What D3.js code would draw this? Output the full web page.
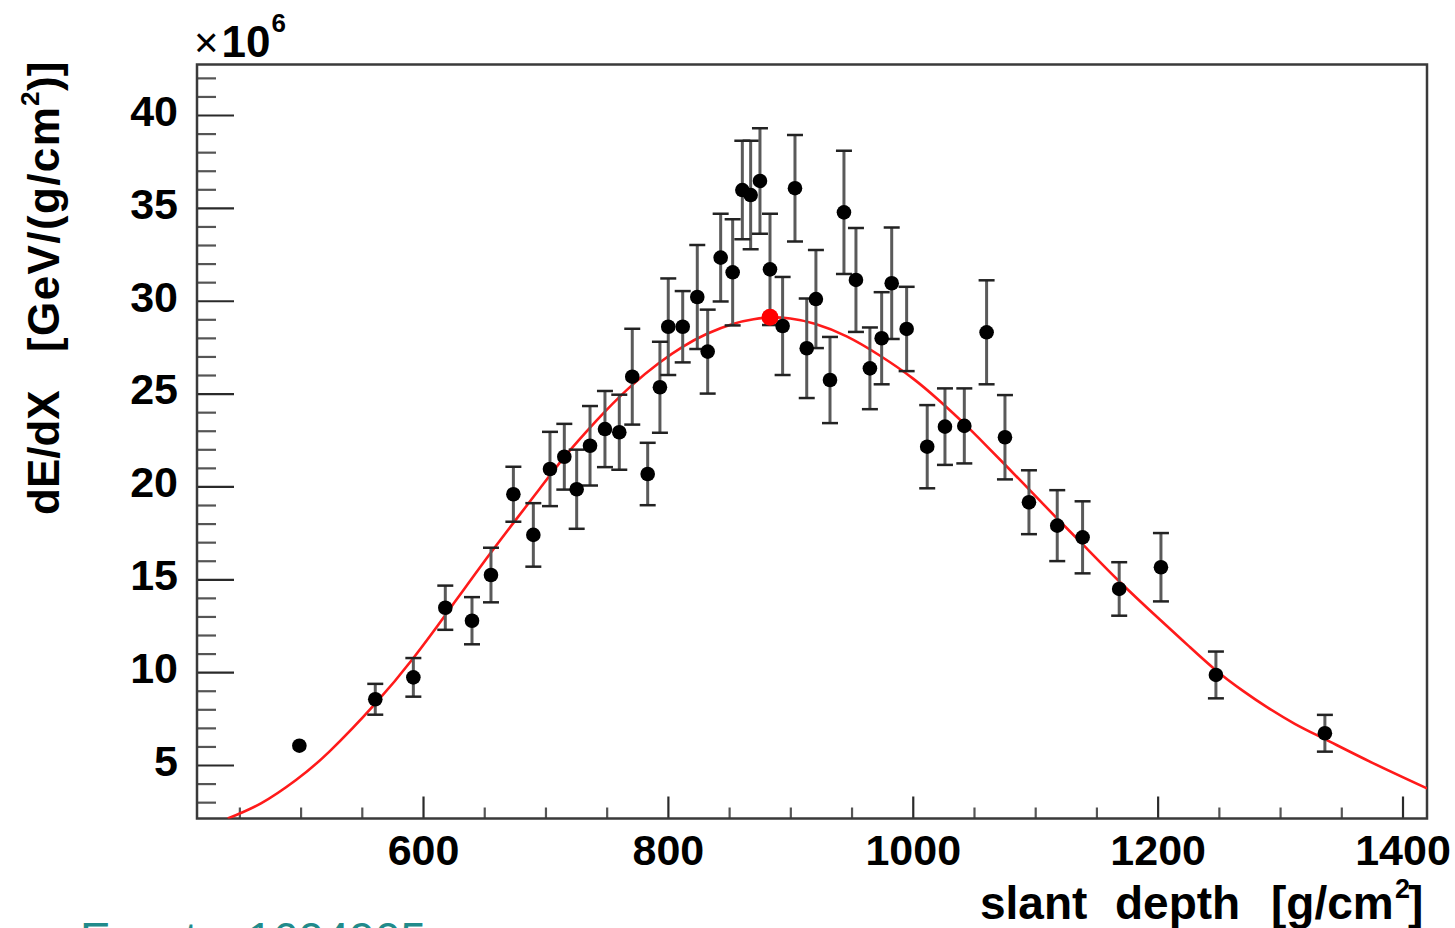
<!DOCTYPE html>
<html>
<head>
<meta charset="utf-8">
<script src="https://cdn.jsdelivr.net/npm/d3@7"></script>
<style>
  html, body { margin: 0; padding: 0; background: #ffffff; }
  svg { display: block; }
  text { font-family: "Liberation Sans", Arial, Helvetica, sans-serif; }
</style>
</head>
<body>
<svg id="chart" width="1455" height="928"></svg>
<script>
// ---- data (values in units of 1e6 GeV/(g/cm2)) ----
const depth = [499.0, 561.0, 592.1, 618.2, 640.0, 655.5, 673.8, 690.1, 703.7, 715.4,
               725.5, 736.4, 748.6, 760.3, 770.9, 783.5, 793.5, 800.3, 812.1, 824.0,
               832.5, 843.1, 852.9, 860.8, 867.6, 875.2, 883.4, 893.7, 903.8, 913.4,
               920.9, 932.4, 943.8, 953.6, 965.0, 974.6, 982.8, 995.0, 1011.8, 1026.3,
               1042.1, 1060.3, 1075.3, 1094.9, 1118.0, 1138.7, 1168.6, 1202.7, 1247.6, 1336.6];
const dEdX = [6.04, 8.54, 9.72, 13.47, 12.77, 15.23, 19.58, 17.39, 20.94, 21.60,
              19.85, 22.19, 23.09, 22.92, 25.91, 20.67, 25.34, 28.60, 28.60, 30.20,
              27.26, 32.32, 31.53, 35.96, 35.69, 36.45, 31.69, 28.64, 36.06, 27.44,
              30.09, 25.73, 34.76, 31.12, 26.36, 27.98, 30.94, 28.48, 22.14, 23.22,
              23.26, 28.30, 22.65, 19.15, 17.89, 17.26, 14.48, 15.65, 9.85, 6.71];
const dEdXErr = [0, 0.83, 1.04, 1.19, 1.27, 1.47, 1.48, 1.71, 2.00, 1.77,
                 2.13, 2.14, 2.05, 2.02, 2.58, 1.68, 2.45, 2.60, 1.92, 2.80,
                 2.26, 2.36, 2.86, 2.65, 2.92, 2.84, 3.00, 2.64, 2.87, 2.68,
                 2.64, 2.32, 3.32, 2.80, 2.20, 2.48, 3.00, 2.27, 2.24, 2.06,
                 2.02, 2.80, 2.27, 1.72, 1.91, 1.94, 1.44, 1.84, 1.26, 0.99];

// fitted profile curve
const fitDepth = [440.5, 468, 496, 523.5, 561, 592, 618, 646, 674, 695, 715, 732, 749, 771,
                  793, 812, 832, 853, 870, 884, 900, 920, 946, 973, 1000, 1022, 1042, 1060,
                  1077, 1095, 1118, 1139, 1169, 1202, 1225, 1248, 1270, 1289, 1312, 1337, 1375, 1420];
const fitValue = [2.12, 2.95, 4.18, 5.72, 8.3, 10.75, 13.05, 15.6, 18.05, 19.85, 21.55, 22.85, 24.06, 25.47,
                  26.66, 27.52, 28.22, 28.75, 29.0, 29.1, 29.04, 28.76, 28.08, 27.05, 25.82, 24.6, 23.38, 22.2,
                  21.06, 19.84, 18.27, 16.87, 14.87, 12.82, 11.43, 10.08, 8.98, 8.13, 7.22, 6.38, 5.13, 3.74];

// shower maximum marker
const xmaxDepth = [883.4];
const xmaxValue = [29.11];

// axes
const xDomain = [415.4, 1420];
const yDomain = [2.12, 42.72];
const xTicks = [600, 800, 1000, 1200, 1400];
const xMinorTicks = [450, 500, 550, 650, 700, 750, 850, 900, 950, 1050, 1100, 1150, 1250, 1300, 1350];
const yTicks = [5, 10, 15, 20, 25, 30, 35, 40];
const yMinorTicks = [3, 4, 6, 7, 8, 9, 11, 12, 13, 14, 16, 17, 18, 19, 21, 22, 23, 24,
                     26, 27, 28, 29, 31, 32, 33, 34, 36, 37, 38, 39, 41, 42];

// ---- drawing ----
const svg = d3.select("#chart");
const L = 197, R = 1427, T = 64.5, B = 818.5;

const x = d3.scaleLinear().domain(xDomain).range([L, R]);
const y = d3.scaleLinear().domain(yDomain).range([B, T]);

svg.append("rect").attr("width", 1455).attr("height", 928).attr("fill", "#ffffff");

svg.append("defs").append("clipPath").attr("id", "frameClip")
  .append("rect").attr("x", L).attr("y", T).attr("width", R - L).attr("height", B - T);

const tickFont = 43;

// Y axis (major with labels, minor without)
const yMajor = svg.append("g").attr("transform", `translate(${L},0)`)
  .call(d3.axisLeft(y).tickValues(yTicks).tickSize(-37).tickPadding(19).tickFormat(d3.format("d")));
const yMin = svg.append("g").attr("transform", `translate(${L},0)`)
  .call(d3.axisLeft(y).tickValues(yMinorTicks).tickSize(-19).tickFormat(""));

// X axis
const xMajor = svg.append("g").attr("transform", `translate(0,${B})`)
  .call(d3.axisBottom(x).tickValues(xTicks).tickSize(-22).tickPadding(16).tickFormat(d3.format("d")));
const xMin = svg.append("g").attr("transform", `translate(0,${B})`)
  .call(d3.axisBottom(x).tickValues(xMinorTicks).tickSize(-11).tickFormat(""));

[yMajor, yMin, xMajor, xMin].forEach(g => g.select(".domain").remove());
[yMajor, xMajor].forEach(g => {
  g.selectAll(".tick line").attr("stroke", "#2a2a2a").attr("stroke-width", 2.2);
  g.selectAll(".tick text").attr("fill", "#000").attr("font-size", tickFont)
    .attr("font-weight", "bold").attr("font-family", "'Liberation Sans', Arial, sans-serif");
});
yMajor.selectAll(".tick text").attr("dy", "0.24em");
[yMin, xMin].forEach(g => g.selectAll(".tick line").attr("stroke", "#555").attr("stroke-width", 2.2));

// frame
svg.append("rect").attr("x", L).attr("y", T).attr("width", R - L).attr("height", B - T)
  .attr("fill", "none").attr("stroke", "#3a3a3a").attr("stroke-width", 2.5);

// fitted curve
const fitData = fitDepth.map((d, i) => ({ d, v: fitValue[i] }));
svg.append("path").datum(fitData)
  .attr("clip-path", "url(#frameClip)")
  .attr("fill", "none").attr("stroke", "#ff1a1a").attr("stroke-width", 2.6)
  .attr("d", d3.line().x(p => x(p.d)).y(p => y(p.v)).curve(d3.curveNatural));

// error bars
const pts = depth.map((d, i) => ({ d, v: dEdX[i], e: dEdXErr[i] }));
const eb = svg.append("g").attr("clip-path", "url(#frameClip)");
const withErr = pts.filter(p => p.e > 0);
eb.selectAll("line.stem").data(withErr).join("line").attr("class", "stem")
  .attr("x1", p => x(p.d)).attr("x2", p => x(p.d))
  .attr("y1", p => y(p.v + p.e)).attr("y2", p => y(p.v - p.e))
  .attr("stroke", "#5a5a5a").attr("stroke-width", 3);
const capW = 8;
eb.selectAll("line.capT").data(withErr).join("line").attr("class", "capT")
  .attr("x1", p => x(p.d) - capW).attr("x2", p => x(p.d) + capW)
  .attr("y1", p => y(p.v + p.e)).attr("y2", p => y(p.v + p.e))
  .attr("stroke", "#222").attr("stroke-width", 2.5);
eb.selectAll("line.capB").data(withErr).join("line").attr("class", "capB")
  .attr("x1", p => x(p.d) - capW).attr("x2", p => x(p.d) + capW)
  .attr("y1", p => y(p.v - p.e)).attr("y2", p => y(p.v - p.e))
  .attr("stroke", "#222").attr("stroke-width", 2.5);

// data points
svg.append("g").selectAll("circle").data(pts).join("circle")
  .attr("cx", p => x(p.d)).attr("cy", p => y(p.v)).attr("r", 7.3).attr("fill", "#000");

// Xmax marker
svg.append("g").selectAll("circle").data(xmaxDepth.map((d, i) => ({ d, v: xmaxValue[i] }))).join("circle")
  .attr("cx", p => x(p.d)).attr("cy", p => y(p.v)).attr("r", 8.5).attr("fill", "#ff0000");

// exponent label
const ex = svg.append("text").attr("x", 194).attr("y", 57).attr("fill", "#000");
ex.append("tspan").attr("font-size", 42).attr("font-weight", "normal").text("×");
ex.append("tspan").attr("font-size", 44).attr("font-weight", "bold").attr("dx", 3).text("10");
ex.append("tspan").attr("font-size", 26).attr("font-weight", "bold").attr("dy", -25).attr("dx", 1).text("6");

// x title
const xt = svg.append("text").attr("y", 919).attr("font-size", 46).attr("font-weight", "bold").attr("fill", "#000");
xt.append("tspan").attr("x", 980).text("slant");
xt.append("tspan").attr("x", 1115).text("depth");
xt.append("tspan").attr("x", 1271).text("[g/cm");
xt.append("tspan").attr("x", 1395).attr("dy", -21).attr("font-size", 27).text("2");
xt.append("tspan").attr("x", 1408).attr("dy", 21).text("]");

// y title (rotated)
const yt = svg.append("text").attr("transform", "translate(59,0) rotate(-90)")
  .attr("y", 0).attr("font-size", 44).attr("font-weight", "bold").attr("fill", "#000");
yt.append("tspan").attr("x", -515).text("dE/dX");
yt.append("tspan").attr("x", -352).attr("letter-spacing", 1.4).text("[GeV/(g/cm");
yt.append("tspan").attr("x", -106).attr("dy", -20).attr("font-size", 26).attr("letter-spacing", 0).text("2");
yt.append("tspan").attr("x", -91).attr("dy", 20).attr("letter-spacing", 0).text(")]");

// event label at the bottom (cut off by the page edge, as in the reference)
const ev = svg.append("text").attr("y", 955).attr("font-size", 46).attr("fill", "#218b8b");
ev.append("tspan").attr("x", 80).text("Event");
ev.append("tspan").attr("x", 247).text("1604905");
</script>
</body>
</html>
